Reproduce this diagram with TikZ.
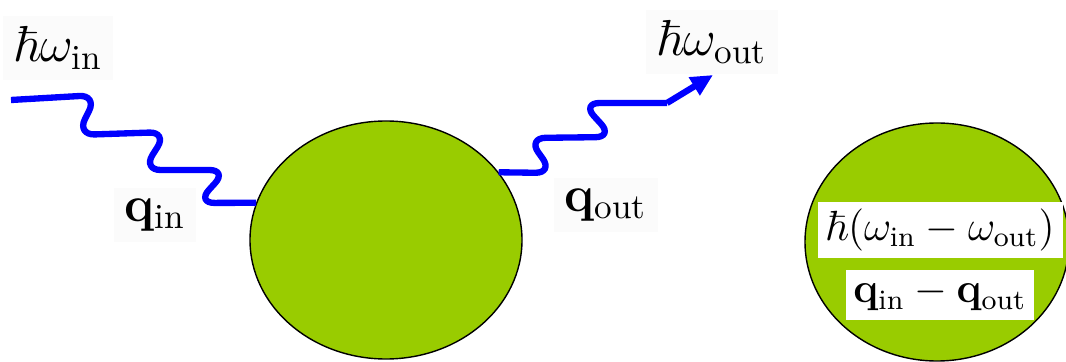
\documentclass[tikz,border=0pt]{standalone}
\usepackage{amsmath, amssymb, bm}
\usepackage{tikz}
\usetikzlibrary{shapes.geometric, arrows.meta, positioning}
\usepackage{xcolor}
\definecolor{blobgreen}{RGB}{153,204,0}
\definecolor{photonblue}{RGB}{0,0,255}

\begin{document}
\begin{tikzpicture}[
    blob/.style={ellipse, draw, thin, fill=blobgreen, inner sep=0pt},
    photon/.style={photonblue, line width=1.8pt, rounded corners=5pt},
    lbl/.style={fill=black!1.5, inner sep=3pt, font=\Large},
    tag/.style={fill=white, inner sep=2pt, font=\large}
]
\useasboundingbox (0,0) rectangle (10.66,3.61);
\clip (0,0) rectangle (10.66,3.61);

% scattering blob and transfer blob
\node[blob, minimum width=2.72cm, minimum height=2.38cm] (scat) at (3.86,1.21) {};
\node[blob, minimum width=2.64cm, minimum height=2.38cm] (xfer) at (9.37,1.19) {};

% labels
\node[lbl] (win) at (0.58,3.13) {$\hbar\omega_{\text{in}}$};
\node[lbl] (qin) at (1.55,1.46) {$\mathbf{q}_{\text{in}}$};
\node[lbl] (qout) at (6.06,1.56) {$\mathbf{q}_{\text{out}}$};
\node[lbl] (wout) at (7.12,3.19) {$\hbar\omega_{\text{out}}$};

\node[tag, minimum width=2.45cm, minimum height=0.54cm] (dw) at (9.40,1.31) {$\hbar(\omega_{\text{in}}-\omega_{\text{out}})$};
\node[tag, minimum width=1.83cm, minimum height=0.50cm, below=0.1cm of dw] (dq) {$\mathbf{q}_{\text{in}}-\mathbf{q}_{\text{out}}$};

% incoming photon
\coordinate (src) at (0.11,2.61);
\draw[photon] (src) -- (0.97,2.66) -- (0.77,2.26) -- (1.67,2.29) -- (1.43,1.91)
    -- (2.27,1.91) -- (1.97,1.58) -- (scat.164);

% outgoing photon
\coordinate (kink) at (6.67,2.58);
\coordinate (dst) at (7.13,2.86);
\draw[photon] (scat.31) -- (5.53,1.88) -- (5.28,2.23) -- (6.13,2.24) -- (5.82,2.58) -- (kink);
\draw[photonblue, line width=1.8pt, -{Triangle[length=2.2mm, width=2mm]}] (kink) -- (dst);
\end{tikzpicture}
\end{document}
